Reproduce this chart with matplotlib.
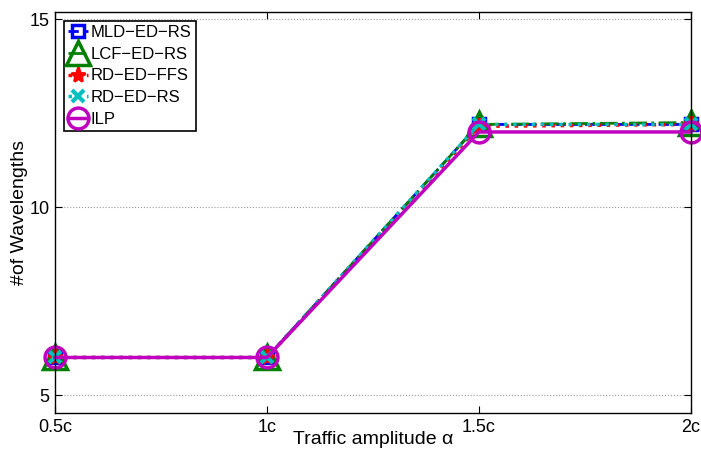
import numpy as np
import matplotlib
matplotlib.use('Agg')
import matplotlib.pyplot as plt

plt.rcParams['font.family'] = ['Liberation Sans', 'DejaVu Sans']

# data
x_labels = ['0.5c', '1c', '1.5c', '2c']
x_vals = [0.5, 1.0, 1.5, 2.0]
mld_ed_rs = [6, 6, 12.2, 12.2]
lcf_ed_rs = [6, 6, 12.2, 12.25]
rd_ed_ffs = [6, 6, 12.15, 12.2]
rd_ed_rs = [6, 6, 12.2, 12.2]
ilp = [6, 6, 12, 12]

fig = plt.figure(figsize=(7.01, 4.5), dpi=100)
ax = fig.add_axes([0.0785, 0.082, 0.907, 0.892])

ax.plot(x_vals, mld_ed_rs, color='b', ls='--', lw=2, marker='s', ms=8,
        mfc='none', mew=2.5, label='MLD\u2212ED\u2212RS', clip_on=False)
ax.plot(x_vals, lcf_ed_rs, color=(0, 0.5, 0), ls='-.', lw=2, marker='^', ms=17,
        mfc='none', mew=2.5, label='LCF\u2212ED\u2212RS', clip_on=False)
ax.plot(x_vals, rd_ed_ffs, color='r', ls=':', lw=2.5, marker='*', ms=11,
        mew=2, label='RD\u2212ED\u2212FFS', clip_on=False)
ax.plot(x_vals, rd_ed_rs, color=(0, 0.75, 0.75), ls=':', lw=2.5, marker='x', ms=8,
        mew=3, label='RD\u2212ED\u2212RS', clip_on=False)
ax.plot(x_vals, ilp, color=(0.75, 0, 0.75), ls='-', lw=2.5, marker='o', ms=15,
        mfc='none', mew=2.5, label='ILP', clip_on=False)

ax.set_xlim(0.5, 2.0)
ax.set_ylim(4.52, 15.2)
ax.set_xticks(x_vals)
ax.set_xticklabels(x_labels)
ax.set_yticks([5, 10, 15])
ax.yaxis.grid(True, ls=':', color='0.6', lw=0.8)
ax.tick_params(direction='in', top=True, right=True, labelsize=13, length=5, pad=4)
for sp in ax.spines.values():
    sp.set_linewidth(1)

ax.set_xlabel('Traffic amplitude \u03b1', fontsize=14, labelpad=-3)
ax.set_ylabel('#of Wavelengths', fontsize=14, labelpad=1)

leg = ax.legend(loc='upper left', fontsize=12, handlelength=1.2, handletextpad=0.15,
                borderpad=0.25, labelspacing=0.4, borderaxespad=0.55,
                fancybox=False, framealpha=1, edgecolor='k')
leg.get_frame().set_linewidth(1.2)

fig.savefig('out.png', dpi=100)
